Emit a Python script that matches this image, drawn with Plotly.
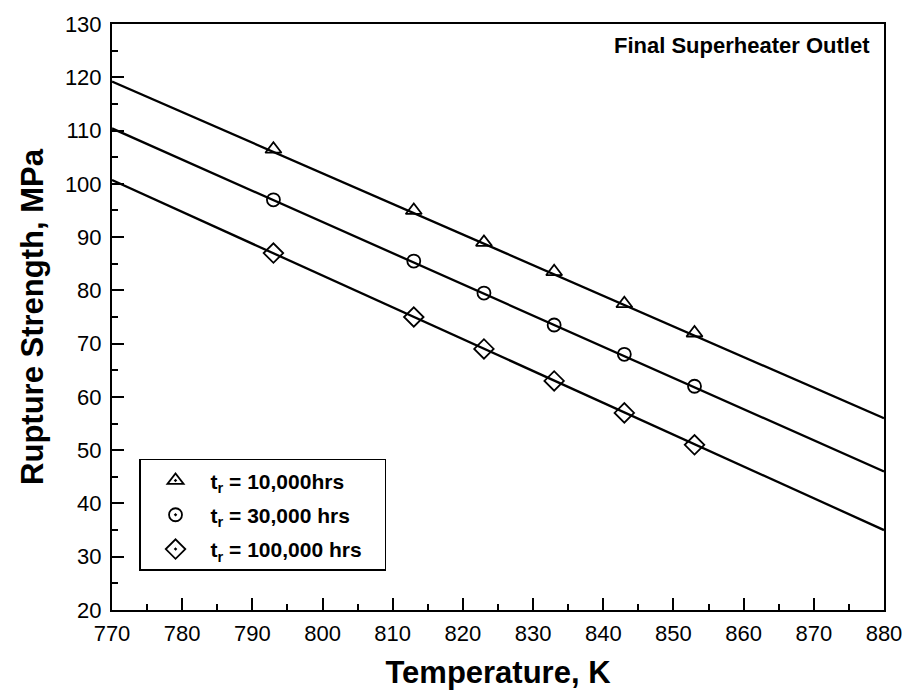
import plotly.graph_objects as go

temps = [793, 813, 823, 833, 843, 853]
s_10k = [106.5, 95.0, 89.0, 83.5, 77.5, 72.0]
s_30k = [97.0, 85.5, 79.5, 73.5, 68.0, 62.0]
s_100k = [87.0, 75.0, 69.0, 63.0, 57.0, 51.0]

fit_x = [770, 880]
fit_10k = [119.2, 56.0]
fit_30k = [110.4, 46.0]
fit_100k = [100.7, 35.0]

names = ["<b>t<sub>r</sub> = 10,000hrs</b>", "<b>t<sub>r</sub> = 30,000 hrs</b>",
         "<b>t<sub>r</sub> = 100,000 hrs</b>&nbsp;&nbsp;&nbsp;"]
plot_symbols = ["triangle-up-open", "circle-open", "diamond-open"]
legend_symbols = ["triangle-up-open-dot", "circle-open-dot", "diamond-open-dot"]
sizes = [14, 13, 15]

FONT = "Arial, Liberation Sans"

fig = go.Figure()
for fy in [fit_10k, fit_30k, fit_100k]:
    fig.add_trace(go.Scatter(x=fit_x, y=fy, mode="lines", line=dict(color="black", width=2.3),
                             showlegend=False, hoverinfo="skip"))
for ys, sym, sz in zip([s_10k, s_30k, s_100k], plot_symbols, sizes):
    fig.add_trace(go.Scatter(x=temps, y=ys, mode="markers", showlegend=False,
                             marker=dict(symbol=sym, size=sz, color="black", line=dict(width=1.8, color="black"))))
for i, (nm, sym, sz) in enumerate(zip(names, legend_symbols, sizes)):
    fig.add_trace(go.Scatter(x=[None], y=[None], mode="markers", name=nm, legendgroup=f"g{i}",
                             marker=dict(symbol=sym, size=sz, color="black", line=dict(width=1.8, color="black"))))

axis_common = dict(showline=True, linecolor="black", linewidth=2, mirror=True, showgrid=False,
                   zeroline=False, ticks="inside", ticklen=12, tickwidth=2, tickcolor="black",
                   tickfont=dict(family=FONT, size=22, color="black"))

fig.update_xaxes(range=[770, 880], tick0=770, dtick=10,
                 minor=dict(ticks="inside", ticklen=6, tickwidth=1.5, dtick=5, tickcolor="black"),
                 title=dict(text="<b>Temperature, K</b>", font=dict(family=FONT, size=31, color="black"), standoff=16),
                 ticklabelstandoff=3,
                 **axis_common)
fig.update_yaxes(range=[20, 130], tick0=20, dtick=10,
                 minor=dict(ticks="inside", ticklen=6, tickwidth=1.5, dtick=5, tickcolor="black"),
                 title=dict(text="<b>Rupture Strength, MPa</b>", font=dict(family=FONT, size=31, color="black"), standoff=12),
                 ticklabelstandoff=4,
                 **axis_common)

fig.add_annotation(x=0.985, y=0.964, xref="paper", yref="paper", xanchor="right", yanchor="middle",
                   text="<b>Final Superheater Outlet</b>", showarrow=False,
                   font=dict(family=FONT, size=22, color="black"))

fig.update_layout(
    width=914, height=697,
    margin=dict(l=112, r=24, t=20, b=87),
    paper_bgcolor="white", plot_bgcolor="white",
    legend=dict(x=0.035, y=0.258, xanchor="left", yanchor="top", bordercolor="black", borderwidth=1.5,
                bgcolor="white", font=dict(family=FONT, size=21, color="black"),
                itemwidth=60, tracegroupgap=4),
    font=dict(family=FONT, color="black"),
)

fig.write_html("out.html")
